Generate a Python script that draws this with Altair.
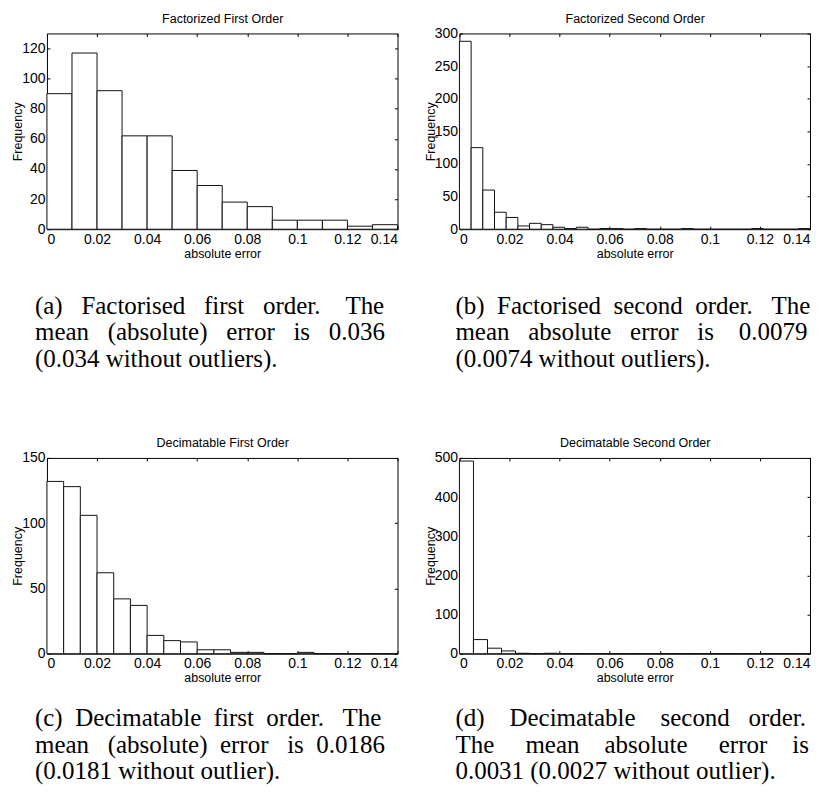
import altair as alt
import pandas as pd

# ---- data ----
x_ticks = [0, 0.02, 0.04, 0.06, 0.08, 0.1, 0.12, 0.14]

a_title = "Factorized First Order"
a_bin_width = 0.01
a_counts = [90, 117, 92, 62, 62, 39, 29, 18, 15, 6, 6, 6, 2, 3]
a_yticks = [0, 20, 40, 60, 80, 100, 120]
a_ymax = 130
a_caption = [["(a)", "Factorised", "first", "order.", "The"],
             ["mean", "(absolute)", "error", "is", "0.036"],
             ["(0.034", "without", "outliers)."]]
a_gaps = [[3, 3, 3, 4], [3, 3, 3, 3], [1, 1]]

b_title = "Factorized Second Order"
b_bin_width = 0.14 / 30
b_counts = [288, 125, 60, 26, 18, 5, 9, 7, 3, 1, 3, 0, 1, 1, 0, 1, 0, 0, 0, 1,
            0, 0, 0, 0, 0, 1, 0, 0, 0, 1]
b_yticks = [0, 50, 100, 150, 200, 250, 300]
b_ymax = 300
b_caption = [["(b)", "Factorised", "second", "order.", "The"],
             ["mean", "absolute", "error", "is", "0.0079"],
             ["(0.0074", "without", "outliers)."]]
b_gaps = [[2, 2, 2, 3], [3, 3, 3, 4], [1, 1]]

c_title = "Decimatable First Order"
c_bin_width = 0.14 / 21
c_counts = [132, 128, 106, 62, 42, 37, 14, 10, 9, 3, 3, 1, 1, 0, 0, 1, 0, 0, 0, 0, 0]
c_yticks = [0, 50, 100, 150]
c_ymax = 150
c_caption = [["(c)", "Decimatable", "first", "order.", "The"],
             ["mean", "(absolute)", "error", "is", "0.0186"],
             ["(0.0181", "without", "outlier)."]]
c_gaps = [[2, 2, 2, 3], [3, 2, 3, 2], [1, 1]]

d_title = "Decimatable Second Order"
d_bin_width = 0.14 / 25
d_counts = [492, 36, 14, 7, 1, 0, 1, 0, 0, 0, 0, 0, 0, 0, 0, 0, 0, 0, 0, 0, 0, 0, 0, 0, 0]
d_yticks = [0, 100, 200, 300, 400, 500]
d_ymax = 500
d_caption = [["(d)", "Decimatable", "second", "order."],
             ["The", "mean", "absolute", "error", "is"],
             ["0.0031", "(0.0027", "without", "outlier)."]]
d_gaps = [[4, 4, 3], [5, 4, 5, 4], [1, 1, 1]]

W, H = 351, 196
SANS = "Liberation Sans"
SERIF = "Liberation Serif"
NBSP = "\u00a0"


def join_line(words, gaps):
    out = words[0]
    for w, g in zip(words[1:], gaps):
        out += NBSP * g + w
    return out


def panel(counts, bin_width, ymax, yticks, title, caption, gaps, cap_dx, cap_offset):
    df = pd.DataFrame({"count": counts})
    df["start"] = [i * bin_width for i in range(len(counts))]
    df["end"] = df["start"] + bin_width
    xs = alt.Scale(domain=[0, 0.14], nice=False, zero=False)
    ys = alt.Scale(domain=[0, ymax], nice=False)
    bars = alt.Chart(df).mark_rect(fill="white", stroke="#111", strokeWidth=1).encode(
        x=alt.X("start:Q", scale=xs,
                axis=alt.Axis(orient="bottom", values=x_ticks, format="~g", offset=-3,
                              tickSize=3, domain=False, grid=False, labelPadding=3,
                              labelFontSize=14, title="absolute error", titleFontSize=12.5,
                              titlePadding=1)),
        x2="end:Q",
        y=alt.Y("count:Q", scale=ys,
                axis=alt.Axis(orient="left", values=yticks, offset=-3, tickSize=3,
                              domain=False, grid=False, labelPadding=2, labelFontSize=14,
                              title="Frequency", titleFontSize=12.5, titleX=-32,
                              titleBaseline="middle")),
        y2=alt.datum(0),
    )
    ghost = alt.Chart(df).mark_point(opacity=0).encode(
        x=alt.X("start:Q", scale=xs,
                axis=alt.Axis(orient="top", values=x_ticks, labels=False, offset=-3,
                              tickSize=3, domain=False, grid=False, title=title,
                              titleFontSize=12.5, titlePadding=7.5)),
        y=alt.Y("count:Q", scale=ys,
                axis=alt.Axis(orient="right", values=yticks, labels=False, offset=-3,
                              tickSize=3, domain=False, grid=False, title=None)),
    )
    lines = [join_line(w, g) for w, g in zip(caption, gaps)]
    return alt.layer(bars, ghost).resolve_axis(x="independent", y="independent").properties(
        width=W, height=H,
        title=alt.TitleParams(text=lines, orient="bottom", anchor="start", frame="group",
                              dx=cap_dx, offset=cap_offset, font=SERIF, fontSize=25,
                              fontWeight="normal", lineHeight=26.5, color="black",
                              baseline="top"),
    )


A = panel(a_counts, a_bin_width, a_ymax, a_yticks, a_title, a_caption, a_gaps, -12, 34)
B = panel(b_counts, b_bin_width, b_ymax, b_yticks, b_title, b_caption, b_gaps, -4, 34)
C = panel(c_counts, c_bin_width, c_ymax, c_yticks, c_title, c_caption, c_gaps, -12, 22)
D = panel(d_counts, d_bin_width, d_ymax, d_yticks, d_title, d_caption, d_gaps, -4, 22)

chart = alt.vconcat(
    alt.hconcat(A, B, spacing=25),
    alt.hconcat(C, D, spacing=25),
    spacing=64,
).properties(padding=3).configure(
    font=SANS,
).configure_view(
    stroke="black", strokeWidth=1,
).configure_axis(
    labelFont=SANS, titleFont=SANS, labelColor="black", titleColor="black",
    tickColor="black", tickWidth=1, titleFontWeight="normal",
)

chart.save("out.html", embed_options={"renderer": "svg", "actions": False})
